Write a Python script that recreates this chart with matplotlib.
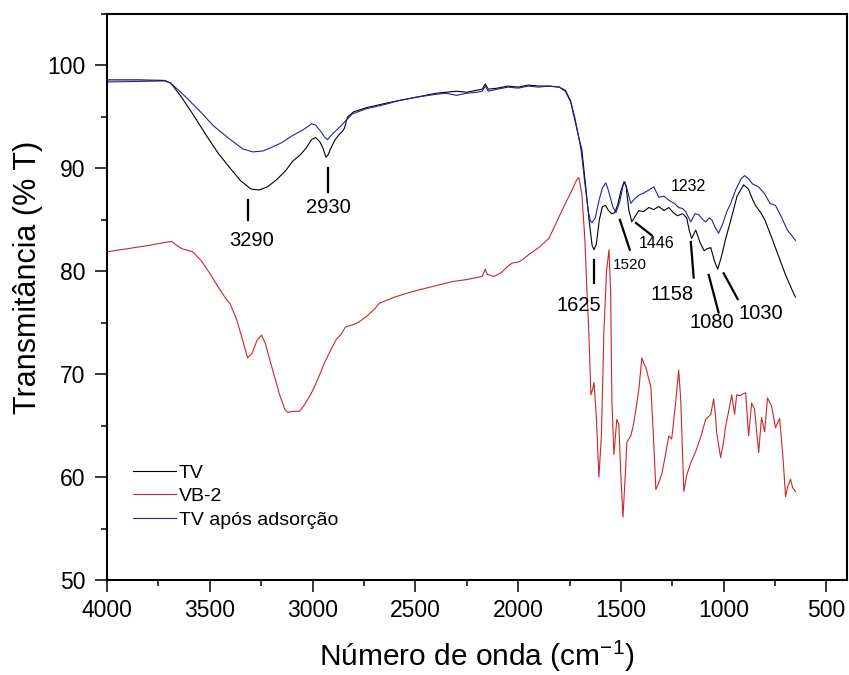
import matplotlib
matplotlib.use("Agg")
import matplotlib.pyplot as plt
from matplotlib.ticker import MultipleLocator

plt.rcParams["font.family"] = ["Liberation Sans", "DejaVu Sans"]
plt.rcParams["mathtext.default"] = "regular"

# TV (black)
tv_wn = [4000, 3850, 3720, 3690, 3640, 3580, 3520, 3460, 3400, 3350, 3300, 3260, 3220, 3175,
         3130, 3097, 3060, 3030, 3005, 2985, 2965, 2950, 2935, 2925, 2910, 2890, 2870, 2855,
         2845, 2830, 2800, 2738, 2650, 2578, 2500, 2400, 2300, 2250, 2200, 2175, 2160, 2145,
         2100, 2050, 2000, 1950, 1900, 1850, 1800, 1770, 1745, 1725, 1705, 1690, 1670, 1655,
         1640, 1631, 1620, 1605, 1590, 1575, 1560, 1545, 1530, 1515, 1500, 1485, 1475, 1462,
         1447, 1435, 1413, 1390, 1364, 1340, 1316, 1290, 1267, 1245, 1225, 1200, 1180, 1168,
         1156, 1136, 1115, 1095, 1080, 1063, 1045, 1029, 1010, 990, 961, 935, 903, 880, 860,
         845, 820, 800, 767, 730, 700, 670, 651]
tv_t = [98.6, 98.6, 98.55, 98.3, 97.0, 95.2, 93.3, 91.5, 90.0, 88.8, 88.0, 87.9, 88.2, 88.9,
        89.8, 90.7, 91.3, 92.0, 92.8, 93.0, 92.6, 92.0, 91.1, 91.3, 92.0, 92.8, 93.3, 93.6,
        93.9, 95.0, 95.5, 95.9, 96.3, 96.6, 96.9, 97.3, 97.5, 97.4, 97.6, 97.7, 98.2, 97.7,
        97.8, 98.0, 97.9, 98.1, 98.0, 98.0, 97.9, 97.5, 96.5, 94.8, 93.0, 91.8, 88.0, 85.0,
        82.5, 82.1, 82.6, 85.0, 86.3, 86.4, 85.9, 85.6, 85.7, 86.5, 87.8, 88.7, 88.3, 86.0,
        84.8, 85.2, 85.9, 85.8, 86.2, 86.0, 86.3, 85.9, 86.2, 85.7, 85.4, 85.6, 85.2, 84.0,
        83.2, 84.0, 82.8, 82.0, 82.2, 82.3, 81.0, 80.2, 81.5, 83.2, 85.3, 87.3, 88.4, 88.0, 87.0,
        86.4, 85.7, 85.0, 83.3, 81.3, 79.7, 78.3, 77.5]

# VB-2 (red)
vb2_wn = [4000, 3900, 3800, 3720, 3685, 3660, 3636, 3583, 3540, 3500, 3460, 3427, 3400, 3369,
          3340, 3316, 3295, 3270, 3248, 3230, 3194, 3160, 3135, 3121, 3090, 3063, 3040, 3010,
          2981, 2940, 2900, 2884, 2860, 2840, 2820, 2780, 2738, 2700, 2675, 2600, 2520, 2481,
          2400, 2320, 2250, 2175, 2160, 2150, 2117, 2080, 2050, 2029, 2000, 1981, 1950, 1900,
          1850, 1801, 1770, 1740, 1715, 1704, 1690, 1675, 1665, 1656, 1646, 1638, 1631, 1620,
          1607, 1595, 1583, 1570, 1558, 1550, 1544, 1534, 1520, 1510, 1500, 1490, 1478, 1471,
          1452, 1440, 1427, 1413, 1398, 1388, 1379, 1368, 1354, 1342, 1330, 1315, 1301, 1285,
          1267, 1253, 1235, 1219, 1209, 1200, 1194, 1180, 1160, 1136, 1110, 1088, 1063, 1049,
          1040, 1034, 1015, 1000, 991, 975, 961, 947, 937, 920, 905, 893, 879, 864, 850, 840,
          830, 816, 801, 787, 767, 748, 728, 712, 699, 690, 675, 665, 651]
vb2_t = [81.9, 82.2, 82.5, 82.8, 82.9, 82.5, 82.2, 81.9, 81.0, 79.8, 78.5, 77.5, 76.8, 75.3,
         73.3, 71.6, 72.0, 73.3, 73.8, 73.0, 70.4, 68.0, 66.6, 66.3, 66.4, 66.4, 67.0, 68.0,
         69.2, 71.2, 72.8, 73.4, 73.9, 74.6, 74.7, 75.0, 75.6, 76.3, 76.9, 77.5, 78.0, 78.2,
         78.6, 79.0, 79.2, 79.5, 80.2, 79.7, 79.5, 79.9, 80.5, 80.8, 80.9, 81.1, 81.6, 82.3,
         83.2, 85.3, 86.6, 87.8, 88.9, 89.1, 87.5, 83.0, 78.0, 74.0, 68.0, 68.5, 69.2, 66.0,
         60.0, 64.0, 74.0, 80.0, 82.1, 78.0, 67.5, 62.2, 65.6, 65.1, 60.0, 56.1, 60.5, 63.4,
         64.0, 65.0, 66.6, 68.5, 71.6, 71.0, 70.7, 69.8, 68.7, 64.0, 58.8, 59.5, 60.3, 62.0,
         64.0, 63.7, 67.0, 70.4, 67.5, 62.0, 58.6, 60.2, 61.4, 62.5, 64.0, 65.6, 66.1, 67.6,
         66.0, 64.3, 61.9, 63.5, 64.9, 66.5, 68.0, 66.1, 68.0, 67.9, 68.1, 68.2, 64.0, 67.2, 66.6, 64.5,
         62.4, 65.8, 64.4, 67.7, 66.9, 64.8, 65.7, 62.0, 58.1, 59.0, 59.8, 59.0, 58.6]

# TV após adsorção (blue)
ads_wn = [4000, 3850, 3720, 3690, 3620, 3550, 3480, 3400, 3340, 3290, 3240, 3209, 3150, 3097,
          3050, 3020, 3005, 2985, 2960, 2940, 2927, 2910, 2890, 2869, 2840, 2806, 2738, 2650,
          2578, 2500, 2400, 2350, 2300, 2250, 2200, 2175, 2160, 2145, 2100, 2050, 2000, 1950,
          1900, 1850, 1800, 1770, 1745, 1725, 1705, 1694, 1675, 1660, 1650, 1641, 1625, 1605,
          1590, 1573, 1560, 1540, 1524, 1505, 1490, 1481, 1470, 1452, 1435, 1413, 1390, 1364,
          1340, 1316, 1290, 1267, 1240, 1219, 1200, 1185, 1160, 1140, 1122, 1105, 1088, 1070,
          1058, 1040, 1025, 1005, 985, 966, 940, 915, 898, 880, 860, 830, 800, 775, 748, 720,
          690, 670, 651]
ads_t = [98.4, 98.45, 98.5, 98.3, 97.0, 95.6, 94.1, 92.8, 91.9, 91.6, 91.7, 91.96, 92.5, 93.2,
         93.7, 94.1, 94.35, 94.2, 93.6, 93.0, 92.8, 93.2, 93.6, 94.0, 94.6, 95.3, 95.8, 96.2,
         96.6, 96.9, 97.2, 97.3, 97.1, 97.3, 97.4, 97.5, 98.0, 97.5, 97.7, 97.9, 97.8, 98.0,
         97.9, 98.0, 97.9, 97.6, 96.6, 95.0, 93.0, 91.8, 88.5, 86.0, 85.0, 84.7, 85.2, 87.0,
         88.1, 88.6, 87.8, 86.3, 85.7, 86.8, 88.3, 88.7, 88.0, 86.6, 87.0, 87.4, 87.6, 87.9,
         88.2, 87.2, 87.3, 86.9, 86.6, 86.2, 86.1, 85.8, 84.8, 85.6, 85.5, 85.1, 84.8, 85.2,
         85.0, 84.2, 83.7, 84.6, 85.8, 86.6, 88.0, 89.0, 89.3, 89.0, 88.5, 88.2, 87.5, 86.6, 86.4, 85.3,
         84.0, 83.5, 83.0]

# peak labels: text, text position, marker line start/end
peak_labels = ["3290", "2930", "1625", "1520", "1446", "1232", "1158", "1080", "1030"]
peak_text_x = [3296, 2922, 1704, 1457, 1325, 1170, 1253, 1058, 821]
peak_text_y = [83.0, 86.2, 76.7, 80.6, 82.75, 88.2, 77.7, 75.0, 75.9]
peak_text_size = [14.5, 14.5, 14.5, 11, 11.5, 11.5, 14.5, 14.5, 14.5]
peak_line_x = [(3314, 3314), (2927, 2927), (1631, 1631), (1505, 1457), (1427, 1350),
               None, (1160, 1146), (1073, 1025), (1000, 932)]
peak_line_y = [(86.9, 85.0), (90.0, 87.7), (81.1, 78.9), (85.0, 82.1), (84.7, 83.5),
               None, (82.85, 79.4), (79.65, 76.0), (79.8, 77.3)]

fig = plt.figure(figsize=(8.49, 6.75), dpi=100)
ax = fig.add_axes([0.126, 0.1407, 0.8717, 0.8385])

ax.plot(tv_wn, tv_t, color="black", lw=0.8, label="TV")
ax.plot(vb2_wn, vb2_t, color="#cc2626", lw=0.8, label="VB-2")
ax.plot(ads_wn, ads_t, color="#23239a", lw=0.8, label="TV após adsorção")

for i, lab in enumerate(peak_labels):
    if peak_line_x[i] is not None:
        ax.plot(peak_line_x[i], peak_line_y[i], color="black", lw=1.6)
    ax.text(peak_text_x[i], peak_text_y[i], lab, fontsize=peak_text_size[i],
            ha="center", va="center")

ax.set_xlim(4000, 400)
ax.set_ylim(50, 105)
ax.xaxis.set_major_locator(MultipleLocator(500))
ax.xaxis.set_minor_locator(MultipleLocator(250))
ax.yaxis.set_major_locator(MultipleLocator(10))
ax.yaxis.set_minor_locator(MultipleLocator(5))
ax.tick_params(which="major", direction="out", length=8.5, width=1.1, labelsize=16.5, pad=5)
ax.tick_params(which="minor", direction="out", length=4.5, width=1.1)
ax.tick_params(axis="y", which="major", pad=7)
for s in ax.spines.values():
    s.set_linewidth(1.5)

ax.set_xlabel("Número de onda (cm$^{-1}$)", fontsize=21.5, labelpad=12)
ax.set_ylabel("Transmitância (% T)", fontsize=22)
ax.yaxis.set_label_coords(-0.087, 0.534)

ax.legend(loc="center left", bbox_to_anchor=(0.035, 0.148), frameon=False, fontsize=14,
          handlelength=2.2, handletextpad=0.15, labelspacing=0.3, borderpad=0, borderaxespad=0)

fig.savefig("out.png", dpi=100)
